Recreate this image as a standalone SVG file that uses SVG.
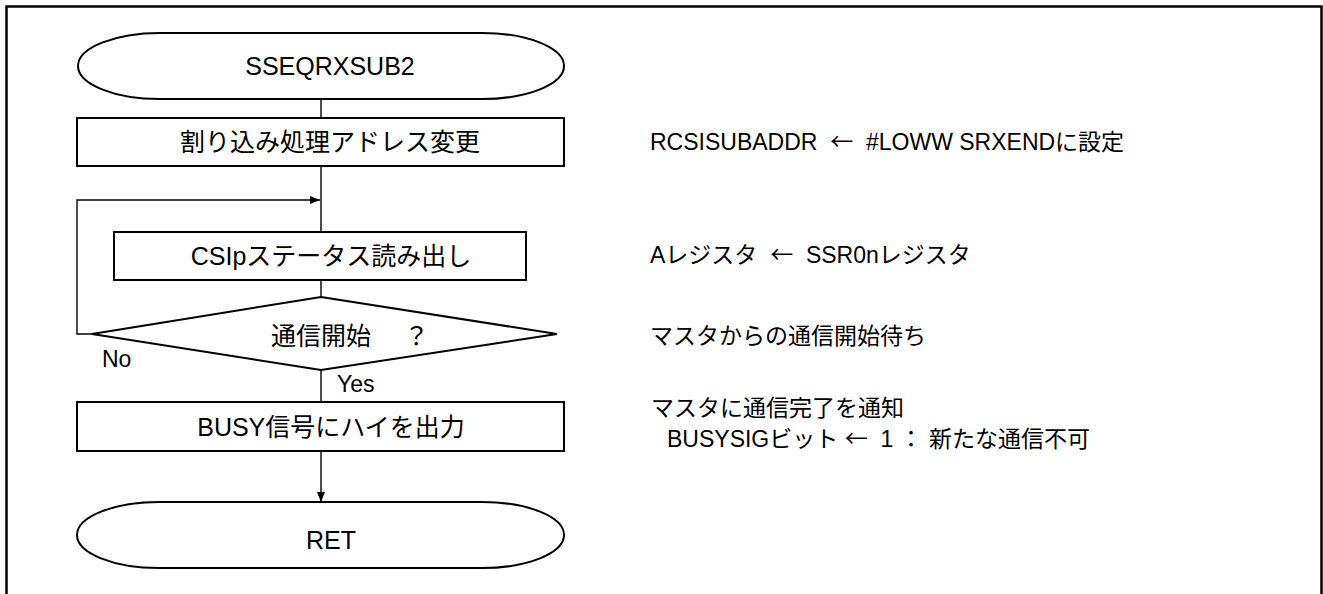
<svg xmlns="http://www.w3.org/2000/svg" width="1323" height="594" viewBox="0 0 1323 594">
<style>
.shape{fill:#fff;stroke:#000;stroke-width:2}
.conn{fill:none;stroke:#000;stroke-width:1.4}
text{font-family:"Liberation Sans","Noto Sans CJK JP",sans-serif;font-size:23px;fill:#000;white-space:pre}
.big{font-size:25px}
.c{text-anchor:middle}
.j{font-family:"Noto Sans CJK JP",sans-serif}
</style>
<defs>
<marker id="arr" viewBox="0 0 10 10" refX="10" refY="5" markerWidth="10" markerHeight="10" markerUnits="userSpaceOnUse" orient="auto">
<path d="M0,1 L10,5 L0,9 Z" fill="#000"/>
</marker>
</defs>
<rect x="0" y="0" width="1323" height="594" fill="#fff"/>
<rect id="frame" x="6.5" y="6.5" width="1315" height="600" fill="none" stroke="#000" stroke-width="2.5"/>
<g id="connectors">
<line class="conn" x1="321" y1="99" x2="321" y2="118"/>
<line class="conn" x1="321" y1="166" x2="321" y2="232"/>
<line class="conn" x1="321" y1="280" x2="321" y2="297"/>
<polyline class="conn" points="93,334 77,334 77,200 320,200" marker-end="url(#arr)"/>
<line class="conn" x1="321" y1="370" x2="321" y2="402"/>
<line class="conn" x1="321" y1="451" x2="321" y2="502" marker-end="url(#arr)"/>
</g>
<g id="start">
<rect class="shape" x="78" y="33" width="486" height="66" rx="82" ry="33"/>
<text class="c big" x="330" y="75">SSEQRXSUB2</text>
</g>
<g id="box1">
<rect class="shape" x="77" y="118" width="487" height="48"/>
<text class="c big" x="330" y="151">割り込み処理アドレス変更</text>
</g>
<g id="box2">
<rect class="shape" x="114" y="232" width="412" height="48"/>
<text class="c big" x="331" y="265">CSIpステータス読み出し</text>
</g>
<g id="decision">
<polygon class="shape" points="321,297 557,334 321,370 92,334"/>
<text class="big" x="271" y="345">通信開始<tspan x="404">？</tspan></text>
<text x="102" y="367">No</text>
<text x="337" y="392">Yes</text>
</g>
<g id="box3">
<rect class="shape" x="77" y="402" width="487" height="49"/>
<text class="c big" x="331" y="436">BUSY信号にハイを出力</text>
</g>
<g id="end">
<rect class="shape" x="77" y="502" width="487" height="66" rx="82" ry="33"/>
<text class="c big" x="331" y="549">RET</text>
</g>
<g id="notes">
<text x="650" y="150">RCSISUBADDR  <tspan class="j">←</tspan>  #LOWW SRXENDに設定</text>
<text x="650" y="263">Aレジスタ  <tspan class="j">←</tspan>  SSR0nレジスタ</text>
<text x="650" y="344">マスタからの通信開始待ち</text>
<text x="651" y="416">マスタに通信完了を通知</text>
<text x="667" y="447">BUSYSIGビット <tspan class="j">←</tspan>  1 ： 新たな通信不可</text>
</g>
</svg>
